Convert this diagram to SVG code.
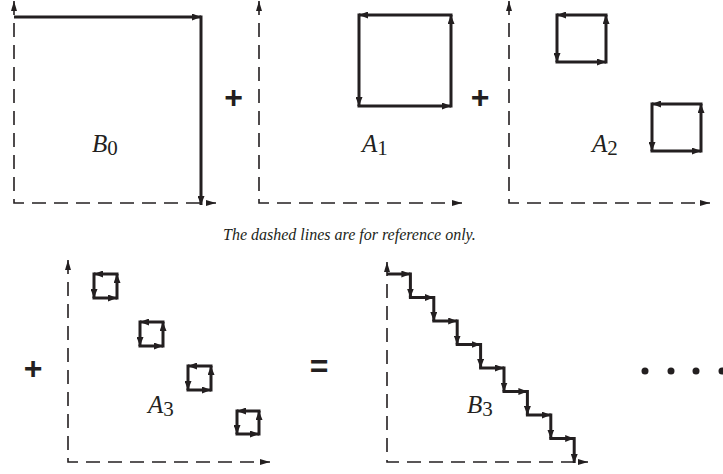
<svg xmlns="http://www.w3.org/2000/svg" width="723" height="474" viewBox="0 0 723 474">
<style>
.axis{fill:none;stroke:#231f20;stroke-width:1.6;stroke-dasharray:14 8;marker-start:url(#ax);marker-end:url(#ax)}
.seg{stroke:#231f20;stroke-width:3;stroke-linecap:butt;marker-end:url(#ah)}
.lbl{font-family:"Liberation Serif",serif;font-size:25px;fill:#231f20}
.lbl .v{font-style:italic}
.lbl .s{font-size:21px}
.op{font-family:"Liberation Sans",Arial,sans-serif;font-weight:bold;font-size:32px;fill:#231f20;text-anchor:middle}
.cap{font-family:"Liberation Serif",serif;font-style:italic;font-size:16px;fill:#231f20}
</style>
<defs>
<marker id="ah" viewBox="0 0 9 7" refX="9" refY="3.5" markerWidth="9" markerHeight="7" markerUnits="userSpaceOnUse" orient="auto"><path d="M0,0 L9,3.5 L0,7 z" fill="#231f20"/></marker>
<marker id="ax" viewBox="0 0 10 6" refX="10" refY="3" markerWidth="10" markerHeight="6" markerUnits="userSpaceOnUse" orient="auto-start-reverse"><path d="M0,0 L10,3 L0,6 z" fill="#231f20"/></marker>
</defs>

<g id="axes">
<polyline class="axis" points="14,1 14,203 216,203"/>
<polyline class="axis" points="259,1 259,203 462,203"/>
<polyline class="axis" points="509,1 509,203 710,203"/>
<polyline class="axis" points="68,260 68,462 270,462"/>
<polyline class="axis" points="387,262 387,462 588,462"/>
</g>

<g id="B0">
<line class="seg" x1="14" y1="17" x2="201" y2="17"/>
<line class="seg" x1="201" y1="15.5" x2="201" y2="205"/>
<text class="lbl" x="92" y="152"><tspan class="v">B</tspan><tspan class="s" dy="3">0</tspan></text>
</g>

<g id="A1">
<line class="seg" x1="452.5" y1="15" x2="359" y2="15"/>
<line class="seg" x1="359" y1="13.5" x2="359" y2="106"/>
<line class="seg" x1="357.5" y1="106" x2="451" y2="106"/>
<line class="seg" x1="451" y1="107.5" x2="451" y2="15"/>
<text class="lbl" x="362" y="152"><tspan class="v">A</tspan><tspan class="s" dy="3">1</tspan></text>
</g>

<g id="A2">
<line class="seg" x1="607.5" y1="15" x2="557" y2="15"/>
<line class="seg" x1="557" y1="13.5" x2="557" y2="62"/>
<line class="seg" x1="555.5" y1="62" x2="606" y2="62"/>
<line class="seg" x1="606" y1="63.5" x2="606" y2="15"/>
<line class="seg" x1="702.5" y1="104" x2="652" y2="104"/>
<line class="seg" x1="652" y1="102.5" x2="652" y2="151"/>
<line class="seg" x1="650.5" y1="151" x2="701" y2="151"/>
<line class="seg" x1="701" y1="152.5" x2="701" y2="104"/>
<text class="lbl" x="592" y="152"><tspan class="v">A</tspan><tspan class="s" dy="3">2</tspan></text>
</g>

<g id="A3">
<line class="seg" x1="118.5" y1="274" x2="94" y2="274"/>
<line class="seg" x1="94" y1="272.5" x2="94" y2="298"/>
<line class="seg" x1="92.5" y1="298" x2="117" y2="298"/>
<line class="seg" x1="117" y1="299.5" x2="117" y2="274"/>

<line class="seg" x1="164.5" y1="322" x2="140" y2="322"/>
<line class="seg" x1="140" y1="320.5" x2="140" y2="346"/>
<line class="seg" x1="138.5" y1="346" x2="163" y2="346"/>
<line class="seg" x1="163" y1="347.5" x2="163" y2="322"/>

<line class="seg" x1="212.5" y1="366" x2="188" y2="366"/>
<line class="seg" x1="188" y1="364.5" x2="188" y2="390"/>
<line class="seg" x1="186.5" y1="390" x2="211" y2="390"/>
<line class="seg" x1="211" y1="391.5" x2="211" y2="366"/>

<line class="seg" x1="260.5" y1="411" x2="237" y2="411"/>
<line class="seg" x1="237" y1="409.5" x2="237" y2="434"/>
<line class="seg" x1="235.5" y1="434" x2="259" y2="434"/>
<line class="seg" x1="259" y1="435.5" x2="259" y2="411"/>
<text class="lbl" x="148" y="413"><tspan class="v">A</tspan><tspan class="s" dy="3">3</tspan></text>
</g>

<g id="B3">
<line class="seg" x1="387" y1="274" x2="410.4" y2="274"/>
<line class="seg" x1="410.4" y1="272.5" x2="410.4" y2="297.5"/>
<line class="seg" x1="408.9" y1="297.5" x2="433.8" y2="297.5"/>
<line class="seg" x1="433.8" y1="296" x2="433.8" y2="321"/>
<line class="seg" x1="432.3" y1="321" x2="457.2" y2="321"/>
<line class="seg" x1="457.2" y1="319.5" x2="457.2" y2="344.5"/>
<line class="seg" x1="455.7" y1="344.5" x2="480.6" y2="344.5"/>
<line class="seg" x1="480.6" y1="343" x2="480.6" y2="368"/>
<line class="seg" x1="479.1" y1="368" x2="504" y2="368"/>
<line class="seg" x1="504" y1="366.5" x2="504" y2="391.5"/>
<line class="seg" x1="502.5" y1="391.5" x2="527.4" y2="391.5"/>
<line class="seg" x1="527.4" y1="390" x2="527.4" y2="415"/>
<line class="seg" x1="525.9" y1="415" x2="550.8" y2="415"/>
<line class="seg" x1="550.8" y1="413.5" x2="550.8" y2="438.5"/>
<line class="seg" x1="549.3" y1="438.5" x2="574.2" y2="438.5"/>
<line class="seg" x1="574.2" y1="437" x2="574.2" y2="463"/>
<text class="lbl" x="467" y="413"><tspan class="v">B</tspan><tspan class="s" dy="3">3</tspan></text>
</g>

<g id="operators">
<text class="op" x="233.5" y="108">+</text>
<text class="op" x="480" y="108">+</text>
<text class="op" x="33" y="379">+</text>
<text class="op" x="319" y="377">=</text>
</g>

<g id="ellipsis" fill="#231f20">
<circle cx="645" cy="371" r="3.5"/>
<circle cx="671" cy="371" r="3.5"/>
<circle cx="696" cy="371" r="3.5"/>
<circle cx="722" cy="371" r="3.5"/>
</g>

<text class="cap" x="223" y="240">The dashed lines are for reference only.</text>
</svg>
